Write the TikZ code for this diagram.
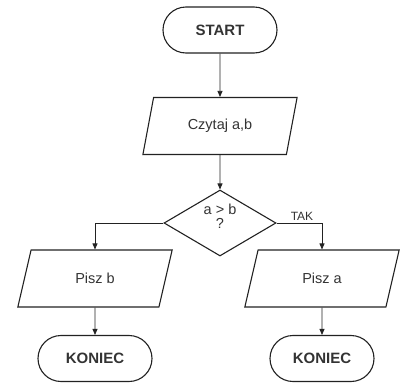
\documentclass[tikz,border=0pt]{standalone}
\usepackage{fontspec}
\setmainfont{Liberation Sans}
\usetikzlibrary{shapes.geometric,shapes.misc,arrows.meta}
\definecolor{ink}{HTML}{222222}
\definecolor{txt}{HTML}{333333}
\begin{document}
\begin{tikzpicture}[x=1pt,y=-1pt,
  every node/.style={text=txt},
  term/.style={rounded rectangle, draw=ink, line width=1.1pt, minimum height=46pt, inner sep=0pt,
    font=\bfseries\fontsize{15}{17}\selectfont},
  io/.style={trapezium, trapezium left angle=69, trapezium right angle=111, trapezium stretches=true,
    draw=ink, line width=1.1pt, minimum width=155pt, minimum height=57pt, inner sep=0pt,
    font=\fontsize{14.5}{17}\selectfont},
  decision/.style={diamond, draw=ink, line width=1.1pt, minimum width=112pt, minimum height=66pt,
    aspect=1.7, inner sep=0pt},
  arr/.style={draw=ink, line width=0.8pt, -{Triangle[length=6pt,width=5pt]}}]
\useasboundingbox (0,0) rectangle (408,383);
\node[term, minimum width=114pt] (start) at (220,30) {START};
\node[io] (read) at (220,126) {Czytaj a,b};
\node[decision] (dec) at (220,223) {};
\node[align=center, font=\fontsize{14.5}{14}\selectfont, inner sep=0pt] (dectext) at (220,216) {a > b\\?};
\node[io] (pb) at (95,278.5) {Pisz b};
\node[io] (pa) at (322,278.5) {Pisz a};
\node[term, minimum width=114pt] (endb) at (95,358.5) {KONIEC};
\node[term, minimum width=104pt] (enda) at (322,358.5) {KONIEC};
\draw[arr] (start) -- (read);
\draw[arr] (read) -- (dec);
\draw[arr] (dec.west) -| (pb.north);
\draw[arr] (dec.east) -| (pa.north) node[pos=0.28, above, font=\fontsize{12}{13}\selectfont, inner sep=2pt] (tak) {TAK};
\draw[arr] (pb) -- (endb);
\draw[arr] (pa) -- (enda);
\end{tikzpicture}
\end{document}
